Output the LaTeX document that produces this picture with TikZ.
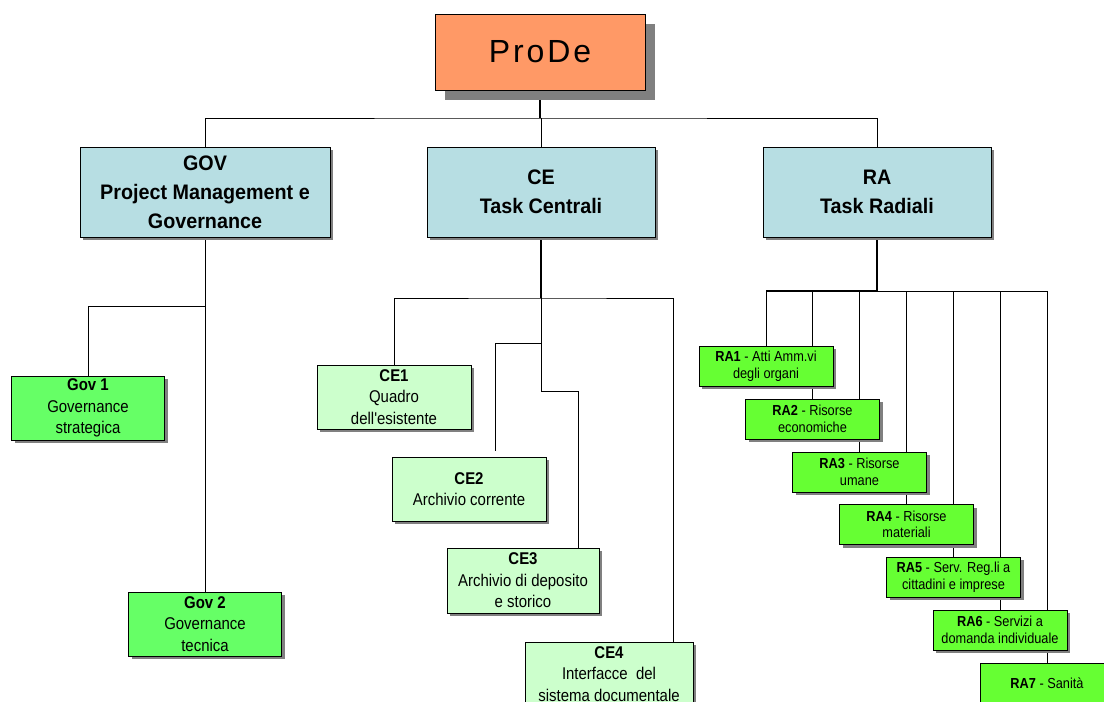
\documentclass[tikz,border=0pt]{standalone}
\usepackage{fontspec}
\setmainfont{Liberation Sans}
\newfontfamily\nsans[FakeStretch=0.88]{Liberation Sans}
\newfontfamily\hsans[FakeStretch=0.94]{Liberation Sans}
\usetikzlibrary{shadows,calc,backgrounds}
\definecolor{prodec}{HTML}{FF9966}
\definecolor{headc}{HTML}{B7DEE3}
\definecolor{govc}{HTML}{66FF66}
\definecolor{cec}{HTML}{CCFFCC}
\definecolor{rac}{HTML}{66FF33}
\definecolor{shgray}{HTML}{808080}
\begin{document}
\begin{tikzpicture}[x=1pt,y=-1pt,
  basebox/.style={draw=black, line width=0.8pt, inner sep=0pt, align=center},
  box/.style={basebox, general shadow={fill=shgray, shadow xshift=3pt, shadow yshift=-3pt}},
  topbox/.style={basebox, fill=prodec, minimum width=210pt, minimum height=76pt,
    general shadow={fill=shgray, shadow xshift=10pt, shadow yshift=-10pt},
    font=\fontsize{32}{36}\selectfont\addfontfeature{LetterSpace=9}},
  head/.style={box, fill=headc, minimum height=90pt, font=\hsans\fontsize{21}{29}\selectfont\bfseries},
  govbox/.style={box, fill=govc, minimum width=153pt, minimum height=64pt, font=\nsans\fontsize{17}{21.5}\selectfont},
  cebox/.style={box, fill=cec, minimum height=64pt, font=\nsans\fontsize{17}{21.5}\selectfont},
  rabox/.style={box, fill=rac, minimum width=134pt, minimum height=40pt, font=\nsans\fontsize{14.5}{16.5}\selectfont},
  conn/.style={line width=1pt, black},
  trunk/.style={line width=1.8pt, black}]
\useasboundingbox (0,0) rectangle (1104,702);

% top
\node[topbox] (ProDe) at (540,52) {ProDe};
% headers
\node[head, minimum width=250pt] (GOV) at (205,192) {GOV\\Project Management e\\Governance};
\node[head, minimum width=228pt] (CE) at (541,192) {CE\\Task Centrali};
\node[head, minimum width=228pt] (RA) at (877,192) {RA\\Task Radiali};
% GOV children
\node[govbox] (Gov1) at (88,408) {\textbf{Gov 1}\\Governance\\strategica};
\node[govbox] (Gov2) at (205,624) {\textbf{Gov 2}\\Governance\\tecnica};
% CE children
\node[cebox, minimum width=154pt] (CE1) at (394,397) {\textbf{CE1}\\Quadro\\dell'esistente};
\node[cebox, minimum width=154pt] (CE2) at (469,489) {\textbf{CE2}\\Archivio corrente};
\node[cebox, minimum width=152pt, minimum height=65pt] (CE3) at (523,580.5) {\textbf{CE3}\\Archivio di deposito\\e storico};
\node[cebox, minimum width=168pt] (CE4) at (609,674) {\textbf{CE4}\\Interfacce\ \ del\\sistema documentale};
% RA children
\node[rabox] (RA1) at (766,366) {\textbf{RA1} - Atti Amm.vi\\degli organi};
\node[rabox] (RA2) at (812.5,419) {\textbf{RA2} - Risorse\\economiche};
\node[rabox] (RA3) at (859.5,472) {\textbf{RA3} - Risorse\\umane};
\node[rabox] (RA4) at (906.5,524.5) {\textbf{RA4} - Risorse\\materiali};
\node[rabox] (RA5) at (953.5,577) {\textbf{RA5} - Serv. Reg.li a\\cittadini e imprese};
\node[rabox] (RA6) at (1000,630) {\textbf{RA6} - Servizi a\\domanda individuale};
\node[rabox] (RA7) at (1047,683) {\textbf{RA7} - Sanità};

\begin{pgfonlayer}{background}
  % top bus
  \coordinate (busTop) at (540,118);
  \draw[trunk] (ProDe.south) -- (busTop);
  \draw[conn] (GOV.north) |- (busTop) -| (RA.north);
  \draw[conn] (CE.north |- busTop) -- (CE.north);
  % GOV
  \coordinate (govJ) at (205,306);
  \draw[conn] (GOV.south) -- (Gov2.north);
  \draw[conn] (govJ) -| (Gov1.north);
  % CE
  \coordinate (ceBus) at (541,298);
  \coordinate (ceJ2) at (541,343);
  \coordinate (ceJ3) at (541,391);
  \coordinate (ce2end) at ($(CE2.north)+(26,-6)$);
  \draw[trunk] (CE.south) -- (ceBus);
  \draw[conn] (CE1.north) |- (ceBus) -| ($(CE4.north east)+(-20,0)$);
  \draw[conn] (ceBus) -- (ceJ3) -| ($(CE3.north)+(55,0)$);
  \draw[conn] (ceJ2) -| (ce2end);
  % RA
  \coordinate (raBus) at (877,291);
  \draw[trunk] (RA.south) -- (raBus);
  \draw[trunk] (raBus) -- (raBus -| RA1.north);
  \draw[conn] (raBus -| RA1.north) -- (raBus -| RA7.north);
  \foreach \n in {RA1,RA2,RA3,RA4,RA5,RA6,RA7}
    \draw[conn] (raBus -| \n.north) -- (\n.north);
\end{pgfonlayer}
\end{tikzpicture}
\end{document}
